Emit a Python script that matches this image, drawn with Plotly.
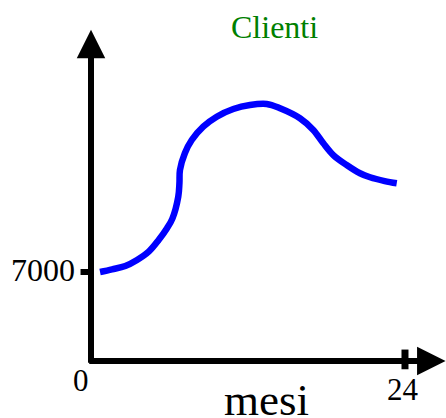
import plotly.graph_objects as go

# Data
months = [0.69, 1.61, 2.62, 3.52, 4.41, 5.17, 5.81, 6.22, 6.67, 6.76, 6.80, 7.18, 7.70, 8.58, 9.61, 10.88, 12.15,
          13.43, 14.45, 15.97, 16.99, 17.76, 18.52, 19.54, 20.56, 21.33, 22.45, 23.37]
clienti = [7000, 7210, 7470, 7945, 8600, 9515, 10440, 11200, 12920, 14000, 15020, 16360, 17380, 18430, 19215, 19820, 20135,
           20215, 19875, 19090, 18170, 17120, 16200, 15415, 14765, 14450, 14150, 13975]
x_ticks = [0, 24]
y_ticks = [7000]
title = "Clienti"
x_title = "mesi"

W, H = 446, 418
px_per_month = 13.083
px_per_unit = 89 / 7000
x0_px, y0_px = 91, 361
xmin = -x0_px / px_per_month
xmax = xmin + W / px_per_month
ymin = -(H - y0_px) / px_per_unit
ymax = y0_px / px_per_unit

FONT = "Liberation Serif, Times New Roman, serif"

fig = go.Figure()
fig.add_trace(go.Scatter(x=months, y=clienti, mode="lines",
                         line=dict(color="#0000FF", width=6.5, shape="spline", smoothing=1.0),
                         hoverinfo="skip", showlegend=False))

# axes with arrows
fig.add_annotation(x=0, y=26050, ax=0, ay=-250, xref="x", yref="y", axref="x", ayref="y",
                   showarrow=True, arrowhead=2, arrowsize=0.95, arrowwidth=6, arrowcolor="black", text="")
fig.add_annotation(x=27.1, y=0, ax=-0.25, ay=0, xref="x", yref="y", axref="x", ayref="y",
                   showarrow=True, arrowhead=2, arrowsize=0.95, arrowwidth=6, arrowcolor="black", text="")

# ticks
for v in y_ticks:
    fig.add_shape(type="line", x0=-0.8, x1=0, y0=v, y1=v, xref="x", yref="y",
                  line=dict(color="black", width=6))
for t in x_ticks[1:]:
    fig.add_shape(type="line", x0=t, x1=t, y0=-650, y1=900, xref="x", yref="y",
                  line=dict(color="black", width=7))

# labels
fig.add_annotation(x=-1.1, y=7150, xref="x", yref="y", text=str(y_ticks[0]), showarrow=False,
                   xanchor="right", yanchor="middle", font=dict(family=FONT, size=32, color="black"))
fig.add_annotation(x=x_ticks[0] - 0.75, y=-1550, xref="x", yref="y", text=str(x_ticks[0]), showarrow=False,
                   xanchor="center", yanchor="middle", font=dict(family=FONT, size=31, color="black"))
fig.add_annotation(x=x_ticks[1] - 0.15, y=-2250, xref="x", yref="y", text=str(x_ticks[1]), showarrow=False,
                   xanchor="center", yanchor="middle", font=dict(family=FONT, size=31, color="black"))
fig.add_annotation(x=13.4, y=-3080, xref="x", yref="y", text=x_title, showarrow=False,
                   xanchor="center", yanchor="middle", font=dict(family=FONT, size=45, color="black"))
fig.add_annotation(x=14.0, y=26300, xref="x", yref="y", text=title, showarrow=False,
                   xanchor="center", yanchor="middle", font=dict(family=FONT, size=32, color="#008000"))

fig.update_layout(width=W, height=H, margin=dict(l=0, r=0, t=0, b=0),
                  paper_bgcolor="white", plot_bgcolor="white",
                  xaxis=dict(range=[xmin, xmax], visible=False, fixedrange=True),
                  yaxis=dict(range=[ymin, ymax], visible=False, fixedrange=True))
fig.write_html("out.html", config={"displayModeBar": False},
               post_script="document.body.style.margin='0';document.body.style.overflow='hidden';")
